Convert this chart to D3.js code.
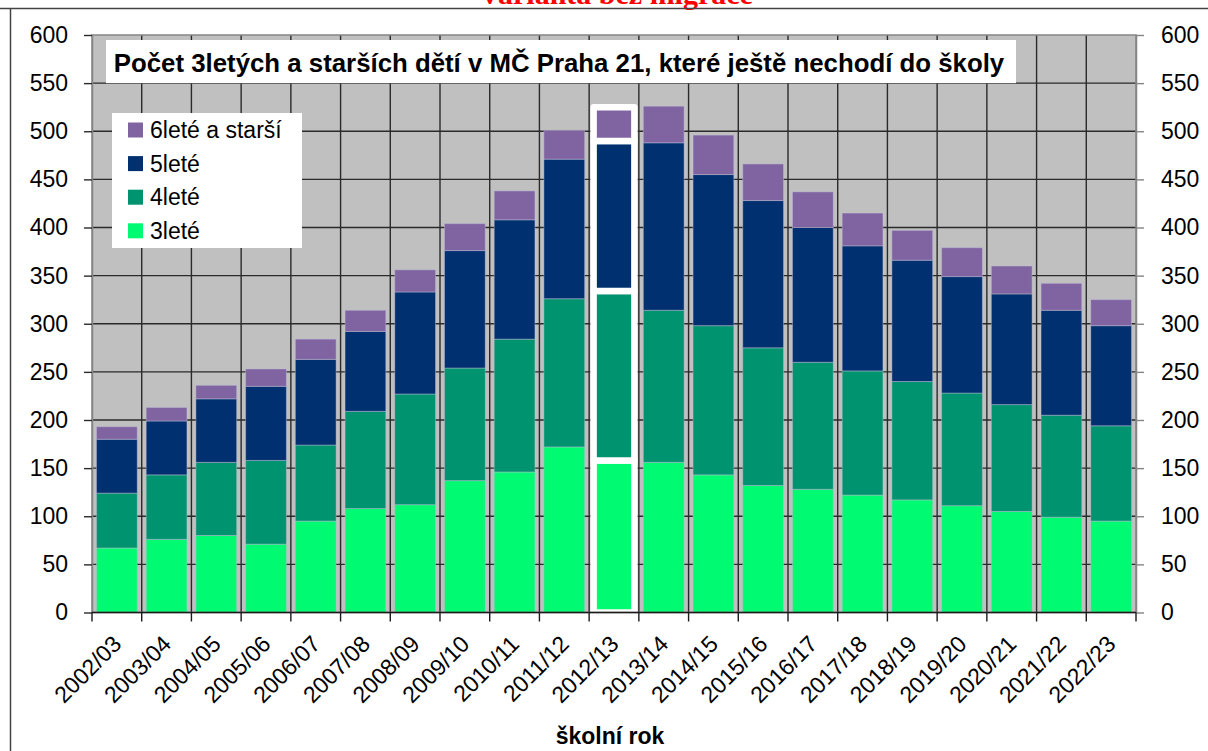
<!DOCTYPE html>
<html>
  <head>
    <meta charset="utf-8">
    <title>Počet 3letých a starších dětí v MČ Praha 21</title>
    <script src="https://cdn.jsdelivr.net/npm/d3@7"></script>
    <style>
      body { margin: 0; background: #fff; }
      svg { display: block; font-family: "Liberation Sans", Arial, sans-serif; }
      .axis text { font-size: 23px; fill: #000; }
      .legend text { font-size: 23px; }
    </style>
  </head>
  <body>
    <svg id="chart" width="1208" height="751"></svg>
    <script>
      // chart data
      const years = ["2002/03", "2003/04", "2004/05", "2005/06", "2006/07", "2007/08", "2008/09",
        "2009/10", "2010/11", "2011/12", "2012/13", "2013/14", "2014/15", "2015/16", "2016/17",
        "2017/18", "2018/19", "2019/20", "2020/21", "2021/22", "2022/23"];
      const age3 = [67, 76, 80, 71, 95, 108, 112, 137, 146, 172, 158, 156, 143, 132, 128, 122, 117, 111, 105, 99, 95];
      const age4 = [57, 67, 76, 87, 79, 101, 115, 117, 138, 154, 176, 158, 155, 143, 132, 129, 123, 117, 111, 106, 99];
      const age5 = [56, 56, 66, 77, 89, 83, 106, 122, 124, 145, 156, 174, 157, 153, 140, 130, 126, 121, 115, 109, 104];
      const age6 = [13, 14, 14, 18, 21, 22, 23, 28, 30, 30, 35, 38, 41, 38, 37, 34, 31, 30, 29, 28, 27];
      const seriesNames = ["3leté", "4leté", "5leté", "6leté a starší"];
      const yTicks = [0, 50, 100, 150, 200, 250, 300, 350, 400, 450, 500, 550, 600];
      const highlightYear = "2012/13";

      const colours = ["#00fa72", "#009370", "#003070", "#8064a2"];
      const margin = { top: 35, right: 72, bottom: 138.5, left: 92 };
      const width = 1208, height = 751;

      const svg = d3.select("#chart");

      // table for stacking
      const table = years.map(function(d, i) {
        return { year: d, a3: age3[i], a4: age4[i], a5: age5[i], a6: age6[i] };
      });
      const keys = ["a3", "a4", "a5", "a6"];
      const stacked = d3.stack().keys(keys)(table);

      // scales
      const x = d3.scaleBand()
        .domain(years)
        .range([margin.left, width - margin.right])
        .paddingInner(0.18)
        .paddingOuter(0.09);
      const y = d3.scaleLinear()
        .domain([0, 600])
        .range([height - margin.bottom, margin.top]);
      const x0 = margin.left, x1 = width - margin.right;
      const step = x.step();
      const cellEdges = d3.range(years.length + 1).map(function(i) { return x0 + i * step; });

      // cut-off header and frame
      svg.append("text")
        .attr("x", 616)
        .attr("y", 4)
        .attr("text-anchor", "middle")
        .style("font-family", "'Liberation Serif', 'Times New Roman', serif")
        .style("font-weight", "bold")
        .style("font-size", "30px")
        .style("fill", "#ff0000")
        .text("Varianta bez migrace");
      svg.append("line")
        .attr("x1", 0).attr("x2", width)
        .attr("y1", 8.5).attr("y2", 8.5)
        .attr("stroke", "#444").attr("stroke-width", 1.5);
      svg.append("line")
        .attr("x1", 10.5).attr("x2", 10.5)
        .attr("y1", 8).attr("y2", height)
        .attr("stroke", "#444").attr("stroke-width", 1.5);

      // plot area
      svg.append("rect")
        .attr("x", x0).attr("y", margin.top)
        .attr("width", x1 - x0).attr("height", y(0) - margin.top)
        .attr("fill", "#c0c0c0");

      // grid
      const grid = svg.append("g").attr("stroke", "#2a2a2a").attr("stroke-width", 1.4);
      grid.selectAll(".hgrid")
        .data(yTicks.filter(function(d) { return d > 0 && d < 600; }))
        .join("line")
          .attr("x1", x0).attr("x2", x1)
          .attr("y1", function(d) { return y(d); })
          .attr("y2", function(d) { return y(d); });
      grid.selectAll(".vgrid")
        .data(cellEdges.slice(1, -1))
        .join("line")
          .attr("x1", function(d) { return d; }).attr("x2", function(d) { return d; })
          .attr("y1", margin.top).attr("y2", y(0));

      // bars
      const layers = svg.append("g").selectAll("g")
        .data(stacked)
        .join("g")
          .attr("fill", function(d, i) { return colours[i]; });
      layers.selectAll("rect")
        .data(function(d) { return d; })
        .join("rect")
          .attr("x", function(d) { return x(d.data.year); })
          .attr("width", x.bandwidth())
          .attr("y", function(d) { return y(d[1]); })
          .attr("height", function(d) { return y(d[0]) - y(d[1]); })
          .attr("stroke", function(d) { return d.data.year === highlightYear ? "#fff" : "rgba(190,190,215,0.45)"; })
          .attr("stroke-width", function(d) { return d.data.year === highlightYear ? 6.5 : 1; })
          .attr("stroke-linejoin", "round");

      // plot border
      svg.append("rect")
        .attr("x", x0).attr("y", margin.top)
        .attr("width", x1 - x0).attr("height", y(0) - margin.top)
        .attr("fill", "none")
        .attr("stroke", "#858585").attr("stroke-width", 1.5);

      // axes
      const yAxisLeft = d3.axisLeft(y).tickValues(yTicks).tickSizeInner(8).tickSizeOuter(0).tickPadding(16);
      const yAxisRight = d3.axisRight(y).tickValues(yTicks).tickSizeInner(8).tickSizeOuter(0).tickPadding(17);
      svg.append("g")
        .attr("class", "axis")
        .attr("transform", "translate(" + x0 + ",0)")
        .call(yAxisLeft)
        .call(function(g) {
          g.select(".domain").attr("stroke", "#858585").attr("stroke-width", 1.5);
          g.selectAll(".tick line").attr("stroke", "#2a2a2a").attr("stroke-width", 1.4);
        });
      svg.append("g")
        .attr("class", "axis")
        .attr("transform", "translate(" + x1 + ",0)")
        .call(yAxisRight)
        .call(function(g) {
          g.select(".domain").attr("stroke", "#858585").attr("stroke-width", 1.5);
          g.selectAll(".tick line").attr("stroke", "#858585").attr("stroke-width", 1.4);
          g.selectAll(".tick text").attr("text-anchor", "start");
        });
      svg.selectAll(".axis").attr("font-family", null).attr("font-size", null);

      // category axis
      const xAxis = svg.append("g").attr("class", "axis");
      xAxis.append("line")
        .attr("x1", x0).attr("x2", x1)
        .attr("y1", y(0)).attr("y2", y(0))
        .attr("stroke", "#1a1a1a").attr("stroke-width", 1.5);
      xAxis.selectAll(".xtick")
        .data(cellEdges)
        .join("line")
          .attr("x1", function(d) { return d; }).attr("x2", function(d) { return d; })
          .attr("y1", y(0)).attr("y2", y(0) + 9)
          .attr("stroke", "#1a1a1a").attr("stroke-width", 1.4);
      xAxis.selectAll(".xlabel")
        .data(years)
        .join("text")
          .attr("text-anchor", "end")
          .attr("transform", function(d) {
            return "translate(" + (x(d) + x.bandwidth() / 2 + 6) + "," + (y(0) + 33) + ") rotate(-45)";
          })
          .text(function(d) { return d; });

      svg.append("text")
        .attr("x", 610)
        .attr("y", 744)
        .attr("text-anchor", "middle")
        .style("font-weight", "bold")
        .style("font-size", "23px")
        .text("školní rok");

      // title box
      svg.append("rect")
        .attr("x", 106).attr("y", 40)
        .attr("width", 910).attr("height", y(550) - 40)
        .attr("fill", "#fff");
      svg.append("text")
        .attr("x", 559)
        .attr("y", 72)
        .attr("text-anchor", "middle")
        .style("font-weight", "bold")
        .style("font-size", "25.8px")
        .text("Počet 3letých a starších dětí v MČ Praha 21, které ještě nechodí do školy");

      // legend
      const legend = svg.append("g").attr("class", "legend");
      legend.append("rect")
        .attr("x", 112).attr("y", 113)
        .attr("width", 190).attr("height", 135)
        .attr("fill", "#fff");
      const entries = legend.selectAll(".entry")
        .data(d3.range(seriesNames.length).reverse())
        .join("g")
          .attr("transform", function(d, i) { return "translate(128," + (130 + i * 33.6) + ")"; });
      entries.append("rect")
        .attr("x", 0).attr("y", -7.5)
        .attr("width", 15).attr("height", 15)
        .attr("fill", function(d) { return colours[d]; });
      entries.append("text")
        .attr("x", 22)
        .attr("y", 8)
        .text(function(d) { return seriesNames[d]; });
    </script>
  </body>
</html>
